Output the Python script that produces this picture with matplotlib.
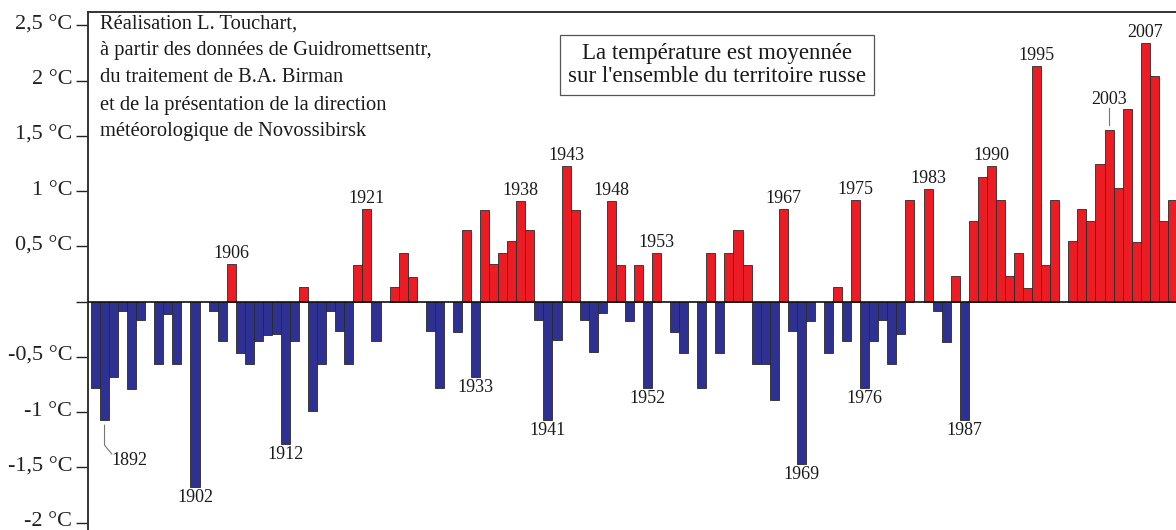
import matplotlib
matplotlib.use("Agg")
import matplotlib.pyplot as plt
import matplotlib.transforms as mtransforms
import numpy as np

plt.rcParams['font.family'] = ['Liberation Serif', 'DejaVu Serif']

years = list(range(1891, 2011))
values = [
    -0.78, -1.07, -0.68, -0.09, -0.79, -0.17, 0.00, -0.57, -0.11, -0.57,   # 1891-1900
    0.00, -1.68, 0.00, -0.09, -0.36, 0.34, -0.47, -0.57, -0.36, -0.30,     # 1901-1910
    -0.29, -1.29, -0.36, 0.13, -0.99, -0.57, -0.09, -0.27, -0.57, 0.33,    # 1911-1920
    0.84, -0.36, 0.00, 0.13, 0.44, 0.22, 0.00, -0.27, -0.78, 0.00,         # 1921-1930
    -0.28, 0.65, -0.68, 0.83, 0.34, 0.44, 0.55, 0.91, 0.65, -0.17,         # 1931-1940
    -1.07, -0.35, 1.23, 0.83, -0.17, -0.46, -0.10, 0.91, 0.33, -0.18,      # 1941-1950
    0.33, -0.78, 0.44, 0.00, -0.28, -0.47, 0.00, -0.78, 0.44, -0.47,       # 1951-1960
    0.44, 0.65, 0.33, -0.57, -0.57, -0.89, 0.84, -0.27, -1.47, -0.18,      # 1961-1970
    0.00, -0.47, 0.13, -0.36, 0.92, -0.78, -0.36, -0.17, -0.57, -0.29,     # 1971-1980
    0.92, 0.00, 1.02, -0.09, -0.37, 0.23, -1.07, 0.73, 1.13, 1.23,         # 1981-1990
    0.92, 0.23, 0.44, 0.12, 2.13, 0.33, 0.92, 0.00, 0.55, 0.84,            # 1991-2000
    0.73, 1.24, 1.55, 1.03, 1.74, 0.54, 2.34, 2.04, 0.73, 0.92,            # 2001-2010
]

labels_above = [1906, 1921, 1938, 1943, 1948, 1953, 1967, 1975, 1983, 1990, 1995, 2007]
labels_below = [1902, 1912, 1933, 1941, 1952, 1969, 1976, 1987]

tick_values = [2.5, 2, 1.5, 1, 0.5, 0, -0.5, -1, -1.5, -2]
tick_labels = ["2,5 °C", "2 °C", "1,5 °C", "1 °C", "0,5 °C", "", "-0,5 °C", "-1 °C", "-1,5 °C", "-2 °C"]

credit_lines = [
    "Réalisation L. Touchart,",
    "à partir des données de Guidromettsentr,",
    "du traitement de B.A. Birman",
    "et de la présentation de la direction",
    "météorologique de Novossibirsk",
]
box_text = "La température est moyennée\nsur l'ensemble du territoire russe"

RED = "#ec1c24"
BLUE = "#2e3192"
EDGE = "#2a2a2a"

W, H = 1176, 530
fig = plt.figure(figsize=(W / 100, H / 100), dpi=100)
left_px, top_px, right_px, bottom_px = 87.5, 12, 1200, 540
ax = fig.add_axes([left_px / W, 1 - bottom_px / H, (right_px - left_px) / W, (bottom_px - top_px) / H])

vals = np.array(values)
yrs = np.array(years)
mask = vals != 0
colors = [RED if v > 0 else BLUE for v in vals[mask]]
ax.bar(yrs[mask], vals[mask], width=1.0, color=colors, edgecolor=EDGE, linewidth=0.6, zorder=2)
ax.axhline(0, color="#111111", lw=1.2, zorder=3)

# zero at 301.5 px, 110.5 px per degree
zero_px, scale = 301.5, 110.5
ax.set_xlim(1890.12, 2013.05)
ax.set_ylim((zero_px - bottom_px) / scale, (zero_px - top_px) / scale)

ax.set_yticks(tick_values)
ax.set_yticklabels(tick_labels, fontsize=16)
ax.tick_params(axis='y', direction='out', length=9, width=1.0, pad=2, colors='#222222')
ax.set_xticks([])
shift = mtransforms.ScaledTranslation(0, 3 / 100, fig.dpi_scale_trans)
for lbl in ax.get_yticklabels():
    lbl.set_transform(lbl.get_transform() + shift)
for s in ['right', 'bottom']:
    ax.spines[s].set_visible(False)
for s in ['left', 'top']:
    ax.spines[s].set_color('#333333')
    ax.spines[s].set_linewidth(1.4)

val_of = dict(zip(years, values))
for y in labels_above:
    ax.annotate(str(y), (y, val_of[y]), xytext=(0, 6), textcoords='offset pixels',
                ha='center', va='baseline', fontsize=13, color='#1a1a1a')
for y in labels_below:
    ax.annotate(str(y), (y, val_of[y]), xytext=(0, -2), textcoords='offset pixels',
                ha='center', va='top', fontsize=13, color='#1a1a1a')

# 1892 with leader line
v = val_of[1892]
ax.plot([1892, 1892, 1892.8], [v - 0.05, v - 0.23, v - 0.31], color='#777777', lw=0.8, zorder=3)
ax.annotate("1892", (1892.8, v - 0.31), xytext=(0, 2), textcoords='offset pixels',
            ha='left', va='top', fontsize=13, color='#1a1a1a')
# 2003 with leader line
v = val_of[2003]
ax.plot([2003, 2003], [v + 0.05, v + 0.2], color='#777777', lw=0.8, zorder=3)
ax.annotate("2003", (2003, v + 0.2), xytext=(0, 4), textcoords='offset pixels',
            ha='center', va='baseline', fontsize=13, color='#1a1a1a')

# credit text block
for i, line in enumerate(credit_lines):
    fig.text(100 / W, 1 - (24 + i * 27) / H, line, ha='left', va='center', fontsize=14.8, color='#1a1a1a')

fig.text(717 / W, 1 - 65 / H, box_text, ha='center', va='center', fontsize=16.5, color='#1a1a1a',
         linespacing=1.1,
         bbox=dict(boxstyle='square,pad=0.37', facecolor='white', edgecolor='#555555', linewidth=0.9))

fig.savefig("out.png", dpi=100)
